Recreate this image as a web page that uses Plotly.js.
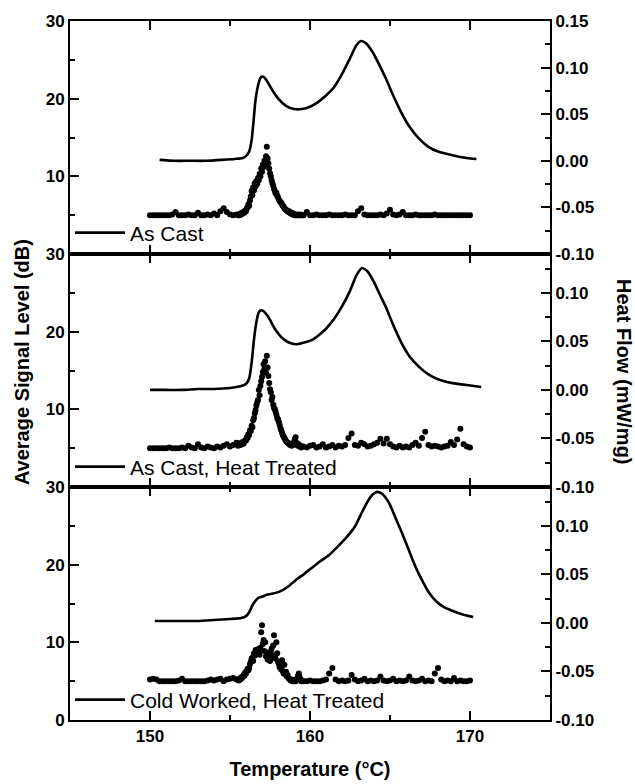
<!DOCTYPE html>
<html>
<head>
<meta charset="utf-8">
<script src="https://cdn.plot.ly/plotly-3.0.1.min.js"></script>
<style>
html,body{margin:0;padding:0;background:#fff;}
#chart{width:635px;height:784px;}
</style>
</head>
<body>
<div id="chart"></div>
<script>
// ---------- Data ----------
const panelNames = ["As Cast", "As Cast, Heat Treated", "Cold Worked, Heat Treated"];

// DSC heat flow (mW/mg) vs temperature (°C)
const dscTempTop = [150.6,151.5,152.5,153.5,154.5,155.3,155.8,156.0,156.2,156.35,156.4,156.5,156.6,156.8,156.95,157.1,157.3,157.6,158.0,158.5,159.0,159.5,160.0,160.5,161.0,161.5,162.0,162.5,162.9,163.2,163.5,163.9,164.3,164.75,165.2,165.7,166.2,166.8,167.4,168.0,168.9,169.8,170.4];
const dscFlowTop = [0.001,0.000,0.000,0.000,0.001,0.002,0.003,0.005,0.010,0.022,0.030,0.048,0.066,0.084,0.090,0.090,0.086,0.077,0.067,0.059,0.0555,0.0555,0.058,0.063,0.070,0.079,0.093,0.110,0.124,0.1285,0.126,0.117,0.104,0.088,0.070,0.052,0.037,0.024,0.015,0.010,0.006,0.003,0.002];

const dscTempMid = [150.0,151.0,152.0,153.0,154.0,155.0,155.7,156.0,156.2,156.35,156.5,156.65,156.8,156.95,157.1,157.4,157.8,158.3,158.8,159.2,159.7,160.2,160.6,161.0,161.5,162.0,162.5,162.9,163.25,163.6,164.0,164.4,164.75,165.2,165.7,166.2,166.8,167.4,168.0,168.9,169.8,170.7];
const dscFlowMid = [0.000,0.000,0.000,0.001,0.001,0.002,0.004,0.006,0.012,0.028,0.052,0.070,0.080,0.082,0.081,0.075,0.063,0.053,0.048,0.047,0.049,0.052,0.057,0.063,0.073,0.086,0.102,0.118,0.1256,0.122,0.111,0.097,0.085,0.067,0.049,0.035,0.024,0.016,0.011,0.007,0.005,0.003];

const dscTempBot = [150.3,151.0,152.0,153.0,154.0,155.0,155.7,156.0,156.2,156.4,156.6,156.8,157.0,157.3,157.6,158.06,158.6,159.1,159.6,160.1,160.6,161.2,161.7,162.25,162.8,163.25,163.6,163.9,164.2,164.5,164.94,165.3,165.75,166.2,166.6,167.0,167.44,167.9,168.4,168.9,169.5,170.2];
const dscFlowBot = [0.002,0.002,0.002,0.002,0.003,0.004,0.005,0.007,0.011,0.018,0.023,0.026,0.027,0.029,0.030,0.032,0.037,0.044,0.050,0.0566,0.063,0.070,0.078,0.0875,0.099,0.114,0.125,0.132,0.135,0.133,0.1235,0.110,0.0926,0.074,0.0576,0.044,0.031,0.022,0.016,0.0125,0.009,0.006];

// Acoustic emission average signal level (dB) vs temperature (°C)
const aeTemp = [
 150.0,150.2,150.4,150.6,150.8,151.0,151.2,151.4,151.6,151.8,
 152.0,152.2,152.4,152.6,152.8,153.0,153.2,153.4,153.6,153.8,
 154.0,154.2,154.4,154.6,154.8,155.0,155.2,155.4,
 155.50,155.55,155.60,155.65,155.70,155.75,155.80,155.85,155.90,155.95,
 156.00,156.05,156.10,156.15,156.20,156.25,156.30,156.35,156.40,156.45,156.50,156.55,156.60,156.65,156.70,156.75,156.80,156.85,156.90,156.95,
 157.00,157.05,157.10,157.15,157.20,157.25,157.30,157.35,157.40,157.45,157.50,157.55,157.60,157.65,157.70,157.75,157.80,157.85,157.90,157.95,
 158.00,158.05,158.10,158.15,158.20,158.25,158.30,158.35,158.40,158.45,158.50,158.55,158.60,158.65,158.70,158.75,158.80,158.85,158.90,158.95,
 159.00,159.05,159.10,159.15,159.20,159.25,159.30,159.35,159.40,159.45,159.50,
 159.6,159.8,
 160.0,160.2,160.4,160.6,160.8,161.0,161.2,161.4,161.6,161.8,
 162.0,162.2,162.4,162.6,162.8,163.0,163.2,163.4,163.6,163.8,
 164.0,164.2,164.4,164.6,164.8,165.0,165.2,165.4,165.6,165.8,
 166.0,166.2,166.4,166.6,166.8,167.0,167.2,167.4,167.6,167.8,
 168.0,168.2,168.4,168.6,168.8,169.0,169.2,169.4,169.6,169.8,
 170.0
];
const aeSignalTop = [
 5.0,5.0,5.0,5.0,5.0,5.0,5.0,5.1,5.4,5.0,
 5.0,5.0,5.1,5.0,5.0,5.3,5.0,5.0,5.1,5.0,
 5.2,5.0,5.5,5.9,5.4,5.1,5.0,5.1,
 5.0,5.1,5.0,5.2,5.1,5.3,5.2,5.4,5.3,5.6,
 5.5,5.9,6.0,6.4,6.2,6.9,7.4,8.1,7.6,8.6,8.2,9.1,8.7,9.4,9.0,9.8,9.5,10.3,10.0,11.0,
 10.6,11.5,11.2,12.0,11.6,12.6,13.8,12.3,11.7,11.0,10.4,10.0,9.5,9.1,8.8,8.4,8.1,7.8,7.9,7.5,
 7.3,7.0,6.9,6.7,6.6,6.4,6.2,6.1,5.9,5.8,5.7,5.6,5.5,5.4,5.5,5.3,5.2,5.3,5.1,5.2,
 5.1,5.0,5.1,5.0,5.0,5.1,5.0,5.0,5.1,5.0,5.0,
 5.0,5.4,
 5.0,5.0,5.1,5.0,5.0,5.0,5.1,5.0,5.0,5.0,
 5.0,5.1,5.0,5.0,5.0,5.5,5.9,5.1,5.0,5.0,
 5.0,5.0,5.1,5.0,5.2,5.7,5.1,5.0,5.1,5.4,
 5.0,5.0,5.0,5.1,5.0,5.0,5.0,5.0,5.0,5.1,
 5.0,5.0,5.0,5.0,5.0,5.0,5.0,5.0,5.0,5.0,
 5.0
];
const aeSignalMid = [
 5.0,5.0,5.0,5.0,5.0,5.0,5.1,5.0,5.0,5.0,
 5.1,5.0,5.3,5.1,5.0,5.5,5.1,5.0,5.2,5.1,
 5.0,5.2,5.1,5.3,5.5,5.2,5.4,5.7,
 5.3,5.6,5.5,5.4,5.7,5.5,5.8,5.6,5.9,6.0,
 6.0,6.4,6.3,6.8,6.7,7.3,7.2,7.9,7.7,8.6,8.9,9.5,9.9,10.5,10.9,11.2,12.5,11.8,13.0,13.6,
 14.2,14.8,15.8,15.2,16.2,14.7,16.9,15.4,14.3,13.4,12.6,12.2,11.2,11.6,10.6,10.2,10.0,9.7,9.3,8.9,
 8.7,8.4,8.0,7.6,7.3,7.0,6.7,6.5,6.3,6.1,5.9,5.8,5.7,5.6,5.6,5.4,5.5,5.3,5.6,5.4,
 5.8,6.1,6.4,5.7,5.4,5.3,5.5,5.2,5.3,5.1,5.2,
 5.2,5.1,
 5.3,5.4,5.1,5.2,5.5,5.1,5.2,5.4,5.1,5.3,
 5.2,5.4,6.3,6.9,5.4,5.3,5.7,5.5,5.2,5.3,
 5.5,5.7,6.2,5.6,6.2,5.5,5.2,5.1,5.3,5.1,
 5.2,5.1,5.4,5.7,5.3,6.3,7.1,5.4,5.2,5.3,
 5.2,5.1,5.2,5.3,5.8,5.4,6.1,7.5,5.5,5.2,
 5.1
];
const aeSignalBot = [
 5.2,5.3,5.2,5.0,5.0,5.0,5.0,5.0,5.0,5.1,
 5.3,5.0,5.0,5.0,5.0,5.0,5.0,5.0,5.1,5.2,
 5.1,5.2,5.3,5.0,5.2,5.3,5.4,5.2,
 5.2,5.1,5.3,5.2,5.5,5.4,5.6,5.8,5.7,6.1,
 6.0,6.3,6.6,6.4,6.7,7.2,7.5,7.9,8.0,7.6,8.6,8.3,9.0,8.5,8.9,9.1,8.8,8.4,9.3,11.3,
 12.2,9.8,10.3,8.9,10.0,8.2,8.7,7.8,8.6,8.3,7.6,8.8,9.2,8.1,9.6,10.9,8.3,7.9,10.0,8.6,
 7.5,7.2,6.8,7.4,6.5,7.7,6.3,6.0,7.1,5.9,6.2,5.6,5.8,5.4,5.3,5.2,5.1,5.2,5.0,5.1,
 5.0,5.1,5.0,5.2,5.4,5.7,6.0,5.5,5.2,5.0,5.1,
 5.0,5.0,
 5.1,5.0,5.0,5.0,5.1,5.2,6.0,6.7,5.2,5.0,
 5.1,5.0,5.1,5.8,5.2,5.0,5.1,5.3,5.0,5.1,
 5.0,5.1,5.6,5.1,5.0,5.1,5.3,5.0,5.1,5.0,
 5.1,5.6,5.1,5.0,5.1,5.3,5.0,5.1,5.0,6.0,
 6.7,5.2,5.0,5.1,5.0,5.4,5.0,5.1,5.0,5.0,
 5.1
];

// Axis ranges and tick labels
const tempRange = [145, 175];
const sigRange = [0, 30];
const flowRangeTop = [-0.10, 0.15];
const flowRangeLower = [-0.10, 0.14];
const sigLabelAliasUpper = {"0": " "};
const flowLabelAlias = {"\u22120.10": "-0.10", "\u22120.05": "-0.05"};

// ---------- Styling ----------
const W = 635, H = 784;
const M = {l: 70, r: 85, t: 21, b: 64};
const FONT = "'Liberation Sans', Arial, Helvetica, sans-serif";
const tickFont = {family: FONT, size: 17, color: "#000", weight: "bold"};
const titleFont = {family: FONT, size: 20, color: "#000", weight: "bold"};

function minorTicks(dtick) {
  return {tickmode: "linear", tick0: 0, dtick: dtick, ticks: "inside", ticklen: 5, tickwidth: 2, tickcolor: "#000", showgrid: false};
}
function xAxis(anchor, showLabels) {
  const a = {
    anchor: anchor, range: tempRange, tickmode: "linear", tick0: 0, dtick: 10,
    ticks: "inside", ticklen: 9, tickwidth: 2, tickcolor: "#000",
    showline: true, linewidth: 2, linecolor: "#000", mirror: "ticks",
    showgrid: false, zeroline: false, showticklabels: showLabels, tickfont: tickFont,
    minor: minorTicks(5)
  };
  if (anchor !== "y3") a.matches = "x3";
  return a;
}
function sigAxis(domain, alias) {
  const a = {
    domain: domain, range: sigRange, tickmode: "linear", tick0: 0, dtick: 10,
    ticks: "inside", ticklen: 9, tickwidth: 2, tickcolor: "#000",
    showline: true, linewidth: 2, linecolor: "#000", showgrid: false, zeroline: false,
    tickfont: tickFont, minor: minorTicks(5)
  };
  if (alias) a.labelalias = alias;
  return a;
}
function flowAxis(overlay, anchorX, range) {
  return {
    overlaying: overlay, anchor: anchorX, side: "right", range: range,
    tickmode: "linear", tick0: 0, dtick: 0.05, tickformat: ".2f", labelalias: flowLabelAlias,
    ticks: "inside", ticklen: 9, tickwidth: 2, tickcolor: "#000",
    showline: true, linewidth: 2, linecolor: "#000", showgrid: false, zeroline: false,
    tickfont: tickFont, minor: minorTicks(0.025)
  };
}

const lineStyle = {color: "#000", width: 2.6, shape: "spline", smoothing: 0.6};
const markerStyle = {color: "#000", size: 6};

const traces = [
  {x: dscTempTop, y: dscFlowTop, xaxis: "x", yaxis: "y4", mode: "lines", line: lineStyle, name: panelNames[0], legend: "legend"},
  {x: aeTemp, y: aeSignalTop, xaxis: "x", yaxis: "y", mode: "markers", marker: markerStyle, name: panelNames[0] + " AE", showlegend: false},
  {x: dscTempMid, y: dscFlowMid, xaxis: "x2", yaxis: "y5", mode: "lines", line: lineStyle, name: panelNames[1], legend: "legend2"},
  {x: aeTemp, y: aeSignalMid, xaxis: "x2", yaxis: "y2", mode: "markers", marker: markerStyle, name: panelNames[1] + " AE", showlegend: false},
  {x: dscTempBot, y: dscFlowBot, xaxis: "x3", yaxis: "y6", mode: "lines", line: lineStyle, name: panelNames[2], legend: "legend3"},
  {x: aeTemp, y: aeSignalBot, xaxis: "x3", yaxis: "y3", mode: "markers", marker: markerStyle, name: panelNames[2] + " AE", showlegend: false}
];

function legendAt(pxFromTop) {
  return {
    x: 0.0, xanchor: "left", y: (H - M.b - pxFromTop) / (H - M.t - M.b), yanchor: "middle",
    bgcolor: "rgba(0,0,0,0)", borderwidth: 0, itemwidth: 50,
    font: {family: FONT, size: 21, color: "#000"}
  };
}

const layout = {
  width: W, height: H,
  margin: {l: M.l, r: M.r, t: M.t, b: M.b, pad: 0},
  paper_bgcolor: "#fff", plot_bgcolor: "rgba(0,0,0,0)",
  font: {family: FONT, color: "#000"},
  showlegend: true,
  xaxis: xAxis("y", false),
  xaxis2: xAxis("y2", false),
  xaxis3: Object.assign(xAxis("y3", true), {
    title: {text: "Temperature (°C)", font: titleFont, standoff: 17}
  }),
  yaxis: sigAxis([2/3, 1], sigLabelAliasUpper),
  yaxis2: sigAxis([1/3, 2/3], sigLabelAliasUpper),
  yaxis3: sigAxis([0, 1/3], null),
  yaxis4: flowAxis("y", "x", flowRangeTop),
  yaxis5: flowAxis("y2", "x2", flowRangeLower),
  yaxis6: flowAxis("y3", "x3", flowRangeLower),
  legend: legendAt(233),
  legend2: legendAt(467),
  legend3: legendAt(700),
  annotations: [
    {text: "Average Signal Level (dB)", xref: "paper", yref: "paper", x: -0.1, y: 0.512,
     xanchor: "center", yanchor: "middle", textangle: -90, showarrow: false, font: titleFont},
    {text: "Heat Flow (mW/mg)", xref: "paper", yref: "paper", x: 1.154, y: 0.498,
     xanchor: "center", yanchor: "middle", textangle: 90, showarrow: false, font: titleFont}
  ]
};

Plotly.newPlot("chart", traces, layout, {staticPlot: true, displayModeBar: false});
</script>
</body>
</html>
